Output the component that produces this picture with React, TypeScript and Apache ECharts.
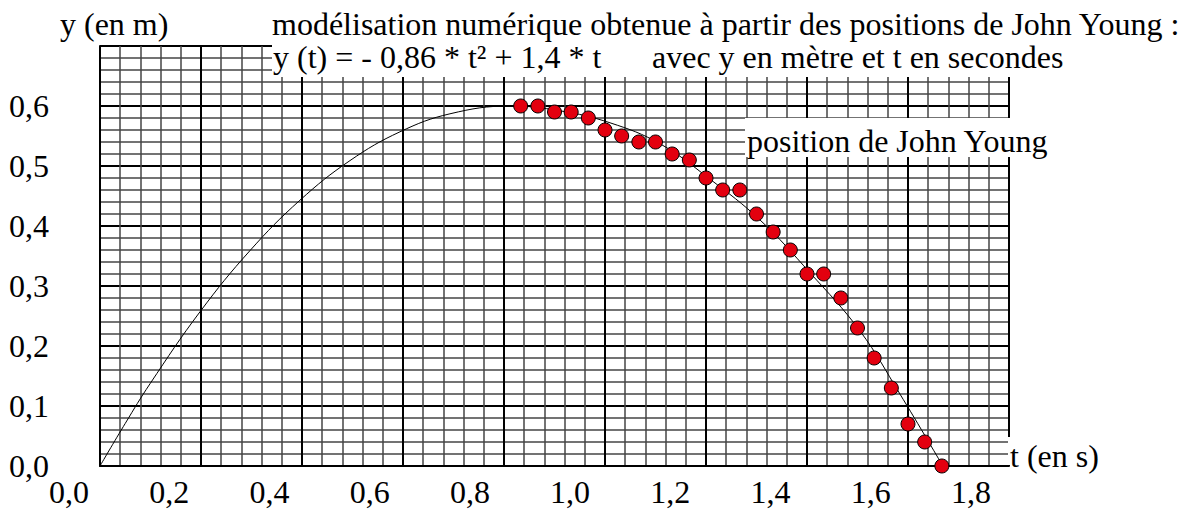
import React, { useEffect, useRef } from 'react';
import * as echarts from 'echarts';

const xTickLabels = ['0,0', '0,2', '0,4', '0,6', '0,8', '1,0', '1,2', '1,4', '1,6', '1,8'];
const yTickLabels = ['0,0', '0,1', '0,2', '0,3', '0,4', '0,5', '0,6', ''];

const pointTimes = [0.833, 0.867, 0.9, 0.933, 0.967, 1.0, 1.033, 1.067, 1.1, 1.133, 1.167, 1.2, 1.233, 1.267, 1.3, 1.333, 1.367, 1.4, 1.433, 1.467, 1.5, 1.533, 1.567, 1.6, 1.633, 1.667];
const pointHeights = [0.6, 0.6, 0.59, 0.59, 0.58, 0.56, 0.55, 0.54, 0.54, 0.52, 0.51, 0.48, 0.46, 0.46, 0.42, 0.39, 0.36, 0.32, 0.32, 0.28, 0.23, 0.18, 0.13, 0.07, 0.04, 0.0];

const modelTimes = [0, 0.05, 0.099, 0.198, 0.297, 0.396, 0.495, 0.594, 0.693, 0.812, 0.911, 1.01, 1.109, 1.208, 1.307, 1.406, 1.505, 1.584, 1.669];
const modelHeights = [0, 0.071, 0.137, 0.257, 0.359, 0.443, 0.509, 0.557, 0.587, 0.6, 0.592, 0.572, 0.537, 0.478, 0.41, 0.322, 0.225, 0.12, 0];

const titleLine1 = 'modélisation numérique obtenue à partir des positions de John Young :';
const titleLine2a = 'y (t) = - 0,86 * t² + 1,4 * t';
const titleLine2b = 'avec y en mètre et t en secondes';
const yName = 'y (en m)';
const xName = 't (en s)';
const seriesName = 'position de John Young';

const FONT = "'Liberation Serif', 'Times New Roman', serif";
const FS = 32;

export default function App() {
  const ref = useRef<HTMLDivElement>(null);
  useEffect(() => {
    if (!ref.current) return;
    const chart = echarts.init(ref.current, undefined, { renderer: 'svg' });
    const txt = (text: string, x: number, y: number) => ({
      type: 'text',
      x,
      y,
      z: 101,
      style: { text, font: `${FS}px ${FONT}`, fill: '#000', verticalAlign: 'middle', align: 'left' },
    });
    const white = (x: number, y: number, w: number, h: number) => ({
      type: 'rect',
      z: 100,
      shape: { x, y, width: w, height: h },
      style: { fill: '#fff' },
    });
    chart.setOption({
      animation: false,
      backgroundColor: '#fff',
      grid: [
        { left: 100, right: 182, top: 46, bottom: 47 },
        { left: 69, right: 220, top: 46, bottom: 47 },
      ],
      xAxis: [
        {
          type: 'value',
          gridIndex: 0,
          min: 0,
          max: 1.8,
          interval: 0.2,
          axisLine: { show: true, lineStyle: { color: '#000', width: 2 } },
          axisTick: { show: false },
          axisLabel: { show: false },
          splitLine: { show: true, lineStyle: { color: '#000', width: 2 } },
          minorTick: { show: false, splitNumber: 5 },
          minorSplitLine: { show: true, lineStyle: { color: '#444', width: 1.5 } },
        },
        {
          type: 'category',
          gridIndex: 1,
          data: xTickLabels,
          boundaryGap: false,
          axisLine: { show: false },
          axisTick: { show: false },
          splitLine: { show: false },
          axisLabel: { show: true, interval: 0, margin: 10, fontFamily: FONT, fontSize: FS, color: '#000' },
        },
      ],
      yAxis: [
        {
          type: 'value',
          gridIndex: 0,
          min: 0,
          max: 0.7,
          interval: 0.1,
          axisLine: { show: true, lineStyle: { color: '#000', width: 2 } },
          axisTick: { show: false },
          axisLabel: {
            show: true,
            margin: 51,
            fontFamily: FONT,
            fontSize: FS,
            color: '#000',
            formatter: (v: number) => yTickLabels[Math.round(v * 10)] ?? '',
          },
          splitLine: { show: true, lineStyle: { color: '#000', width: 2 } },
          minorTick: { show: false, splitNumber: 5 },
          minorSplitLine: { show: true, lineStyle: { color: '#444', width: 1.5 } },
        },
        { type: 'value', gridIndex: 1, show: false, min: 0, max: 0.7 },
      ],
      series: [
        {
          type: 'line',
          name: 'modèle',
          xAxisIndex: 0,
          yAxisIndex: 0,
          data: modelTimes.map((t, i) => [t, modelHeights[i]]),
          smooth: 0.4,
          showSymbol: false,
          lineStyle: { color: '#000', width: 1 },
          z: 3,
        },
        {
          type: 'scatter',
          name: seriesName,
          xAxisIndex: 0,
          yAxisIndex: 0,
          data: pointTimes.map((t, i) => [t, pointHeights[i]]),
          symbolSize: 14,
          itemStyle: { color: '#e3000f', borderColor: '#000', borderWidth: 1, opacity: 1 },
          z: 4,
        },
      ],
      graphic: [
        white(272, 40, 745, 37),
        white(745, 118, 272, 39),
        white(1008, 437, 120, 28),
        txt(yName, 60, 24),
        txt(titleLine1, 272, 24),
        txt(titleLine2a, 273, 57),
        txt(titleLine2b, 652, 57),
        txt(seriesName, 747, 141),
        txt(xName, 1010, 456),
      ],
    });
    return () => chart.dispose();
  }, []);
  return <div ref={ref} style={{ position: 'fixed', left: 0, top: 0, width: 1191, height: 513, background: '#fff' }} />;
}
